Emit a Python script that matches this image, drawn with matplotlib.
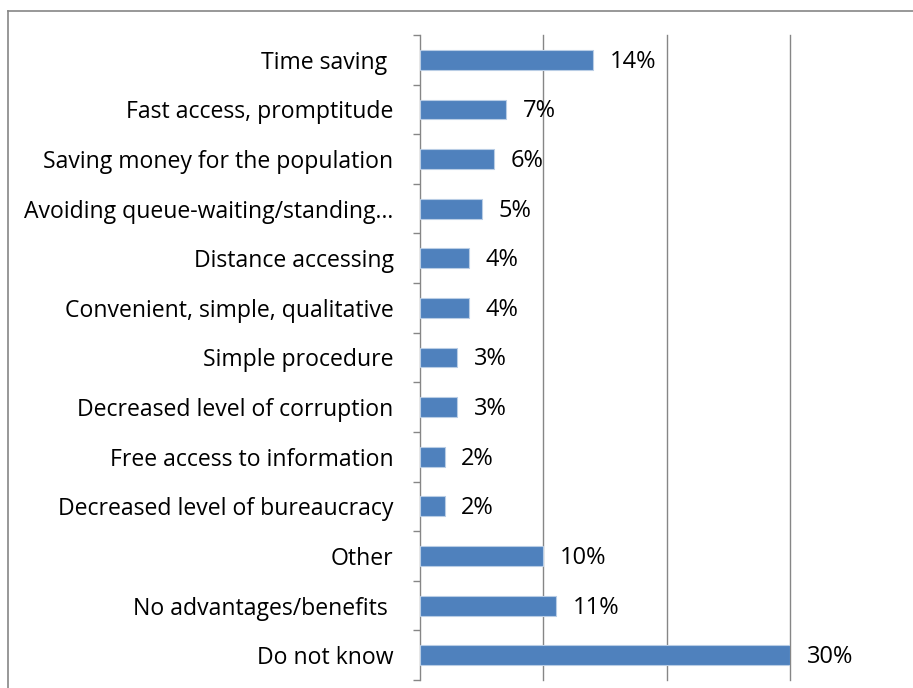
import matplotlib.pyplot as plt
from matplotlib.ticker import FixedLocator, NullLocator
from matplotlib.lines import Line2D

categories = [
    "Time saving ",
    "Fast access, promptitude",
    "Saving money for the population",
    "Avoiding queue-waiting/standing\u2026",
    "Distance accessing",
    "Convenient, simple, qualitative",
    "Simple procedure",
    "Decreased level of corruption",
    "Free access to information",
    "Decreased level of bureaucracy",
    "Other",
    "No advantages/benefits ",
    "Do not know",
]
values = [14, 7, 6, 5, 4, 4, 3, 3, 2, 2, 10, 11, 30]
grid_ticks = [10, 20, 30]


def draw_chart(categories, values):
    plt.rcParams['font.family'] = ['Open Sans', 'DejaVu Sans']
    fig = plt.figure(figsize=(9.13, 6.88), dpi=100)
    ax = fig.add_axes([420 / 913, 1 - 680 / 688, 370 / 913, 645 / 688])

    pos = list(range(len(categories)))
    ax.barh(pos, values, height=0.4, color='#4F81BD', edgecolor='#B9CDE5',
            linewidth=0.8, zorder=3)
    for p, v in zip(pos, values):
        ax.text(v + 1.35, p + 0.04, f"{v}%", va='center', ha='left', fontsize=17)

    ax.set_xlim(0, 30)
    ax.set_ylim(len(categories) - 0.5, -0.5)
    ax.set_yticks(pos)
    ax.set_yticklabels(categories, fontsize=16.6)
    ax.tick_params(axis='y', which='major', length=0, pad=19)
    ax.yaxis.set_minor_locator(FixedLocator([p - 0.5 for p in pos] + [len(pos) - 0.5]))
    ax.tick_params(axis='y', which='minor', length=5, color='#868686', width=1)

    ax.xaxis.set_major_locator(NullLocator())
    ax.tick_params(axis='x', length=0, labelbottom=False)
    for g in grid_ticks:
        ax.axvline(g, color='#868686', linewidth=1, zorder=0, clip_on=False)

    for side in ['top', 'right', 'bottom']:
        ax.spines[side].set_visible(False)
    ax.spines['left'].set_color('#868686')
    ax.spines['left'].set_linewidth(1)

    # chart frame (only top and left edges are visible in the picture)
    fig.add_artist(Line2D([8 / 913, 8 / 913], [0, 1 - 11 / 688],
                          color='#868686', linewidth=1.2))
    fig.add_artist(Line2D([8 / 913, 1], [1 - 11 / 688, 1 - 11 / 688],
                          color='#868686', linewidth=1.2))

    fig.savefig('out.png', dpi=100)


def main():
    draw_chart(categories, values)


if __name__ == '__main__':
    main()
